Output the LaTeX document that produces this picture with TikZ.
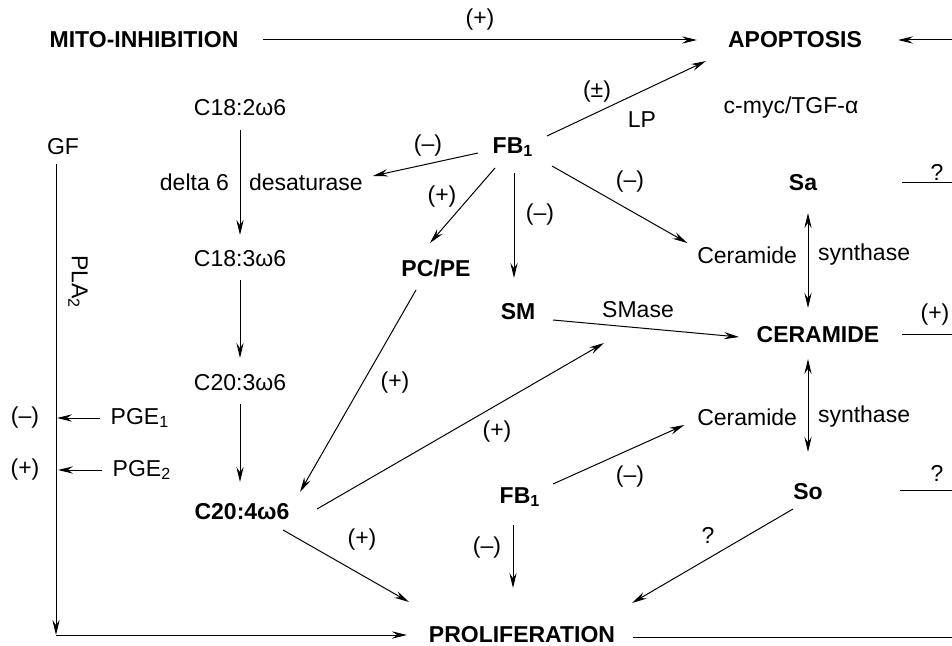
\documentclass[tikz,border=0pt]{standalone}
\usepackage{fontspec}
\setmainfont{Liberation Sans}
\usetikzlibrary{calc,arrows.meta}
\begin{document}
\begin{tikzpicture}[x=0.5pt,y=-0.5pt,
  every node/.style={inner sep=0pt,outer sep=0pt,font=\fontsize{11.5}{13.8}\selectfont},
  txt/.style={},
  bnode/.style={font=\fontsize{11.5}{13.8}\selectfont\bfseries},
  arr/.style={line width=0.5pt,-{Stealth[length=7.5pt,width=3.6pt,inset=2.6pt]}},
  dbl/.style={line width=0.5pt,{Stealth[length=7.5pt,width=3.6pt,inset=2.6pt]}-{Stealth[length=7.5pt,width=3.6pt,inset=2.6pt]}},
  ln/.style={line width=0.5pt}]
\useasboundingbox (0,0) rectangle (952,646);
% nodes
\node[bnode] (mito) at (144,40) {MITO-INHIBITION};
\node[bnode] (apop) at (795,40) {APOPTOSIS};
\node[txt] (lplus) at (480,20) {(+)};
\node[txt] (c182) at (240,108) {C18:2ω6};
\node[txt] (gf) at (63,147) {GF};
\node[txt,anchor=east] (delta) at (229,182) {delta 6};
\node[txt,anchor=west] (desat) at (249,182) {desaturase};
\node[bnode] (fbA) at (513,147) {FB\textsubscript{1}};
\node[txt] (lmA) at (428,146) {(–)};
\node[txt] (lpB) at (442,197) {(+)};
\node[txt] (lpm) at (597,92) {(±)};
\node[txt] (lp) at (642,120) {LP};
\node[txt] (cmyc) at (791,108) {c-myc/TGF-α};
\node[bnode] (sa) at (803,183) {Sa};
\node[txt] (q1) at (937,172) {?};
\node[txt] (lmC) at (630,182) {(–)};
\node[txt] (lmD) at (540,215) {(–)};
\node[bnode] (pcpe) at (436,268) {PC/PE};
\node[txt] (c183) at (240,259) {C18:3ω6};
\node[txt] (c203) at (240,383) {C20:3ω6};
\node[bnode] (c204) at (242,512) {C20:4ω6};
\node[txt] (lpE) at (395,383) {(+)};
\node[txt] (lpF) at (497,432) {(+)};
\node[txt] (lpG) at (362,540) {(+)};
\node[txt,rotate=-90] (pla) at (78,282) {PLA\textsubscript{2}};
\node[txt] (lmH) at (25,418) {(–)};
\node[txt] (pge1) at (140,418) {PGE\textsubscript{1}};
\node[txt] (lpI) at (25,470) {(+)};
\node[txt] (pge2) at (142,470) {PGE\textsubscript{2}};
\node[bnode] (sm) at (518,312) {SM};
\node[txt] (smase) at (638,310) {SMase};
\node[bnode] (cer) at (818,335) {CERAMIDE};
\node[txt] (lpJ) at (935,315) {(+)};
\node[txt,anchor=east] (cerT) at (797,255) {Ceramide};
\node[txt,anchor=west] (synT) at (818,255) {synthase};
\node[txt,anchor=east] (cerB) at (797,417) {Ceramide};
\node[txt,anchor=west] (synB) at (818,417) {synthase};
\node[bnode] (fbB) at (520,497) {FB\textsubscript{1}};
\node[txt] (lmK) at (630,477) {(–)};
\node[txt] (lmL) at (487,548) {(–)};
\node[bnode] (so) at (808,492) {So};
\node[txt] (q2) at (937,473) {?};
\node[txt] (q3) at (708,535) {?};
\node[bnode] (prolif) at (522,635) {PROLIFERATION};
% coordinates
\coordinate (eR) at (952,0);
\coordinate (gline) at (56,164);
\coordinate (corner) at (56,635);
% connectors
\draw[arr] ($(mito)+(119,0)$) -- ($(apop)+(-98,0)$);
\draw[arr] (apop -| eR) -- ($(apop)+(103,0)$);
\draw[arr] ($(c182)+(0,22)$) -- ($(c183)+(0,-24)$);
\draw[arr] ($(c183)+(0,21)$) -- ($(c203)+(0,-25)$);
\draw[arr] ($(c203)+(0,21)$) -- ($(c204)+(-2,-30)$);
\draw[arr] ($(fbA)+(-35,6)$) -- ($(desat.east)+(10,-6)$);
\draw[arr] ($(fbA)+(-18,21)$) -- ($(pcpe)+(-6,-25)$);
\draw[arr] ($(fbA)+(1,26)$) -- ($(sm)+(-4,-34)$);
\draw[arr] ($(fbA)+(39,19)$) -- ($(cerT.west)+(-10,-12)$);
\draw[arr] ($(fbA)+(34,-11)$) -- ($(apop)+(-89,21)$);
\draw[arr] ($(sm)+(35,8)$) -- ($(cer)+(-79,2)$);
\draw[arr] ($(pcpe)+(-20,22)$) -- ($(c204)+(58,-20)$);
\draw[arr] ($(c204)+(75,-3)$) -- ($(sm)+(86,31)$);
\draw[arr] ($(c204)+(41,18)$) -- ($(prolif)+(-113,-33)$);
\draw[arr] ($(fbB)+(33,-13)$) -- ($(cerB.west)+(-13,8)$);
\draw[arr] ($(fbB)+(-7,28)$) -- ($(prolif)+(-9,-47)$);
\draw[arr] ($(so)+(-15,17)$) -- ($(prolif)+(110,-32)$);
\draw[dbl] ($(sa)+(5,30)$) -- ($(cer)+(-10,-27)$);
\draw[dbl] ($(cer)+(-10,24)$) -- ($(so)+(0,-40)$);
\draw[arr] (gline) -- (corner);
\draw[arr] (corner) -- ($(prolif)+(-115,0)$);
\draw[arr] ($(pge1)+(-40,0)$) -- ($(gline |- pge1)+(1,0)$);
\draw[arr] ($(pge2)+(-40,0)$) -- ($(gline |- pge2)+(2,0)$);
\draw[ln] ($(sa)+(99,0)$) -- (sa -| eR);
\draw[ln] ($(cer)+(84,0)$) -- (cer -| eR);
\draw[ln] ($(so)+(92,-2)$) -- ($(so -| eR)+(0,-2)$);
\draw[ln] ($(prolif)+(111,2)$) -- ($(prolif -| eR)+(0,2)$);
\end{tikzpicture}
\end{document}
